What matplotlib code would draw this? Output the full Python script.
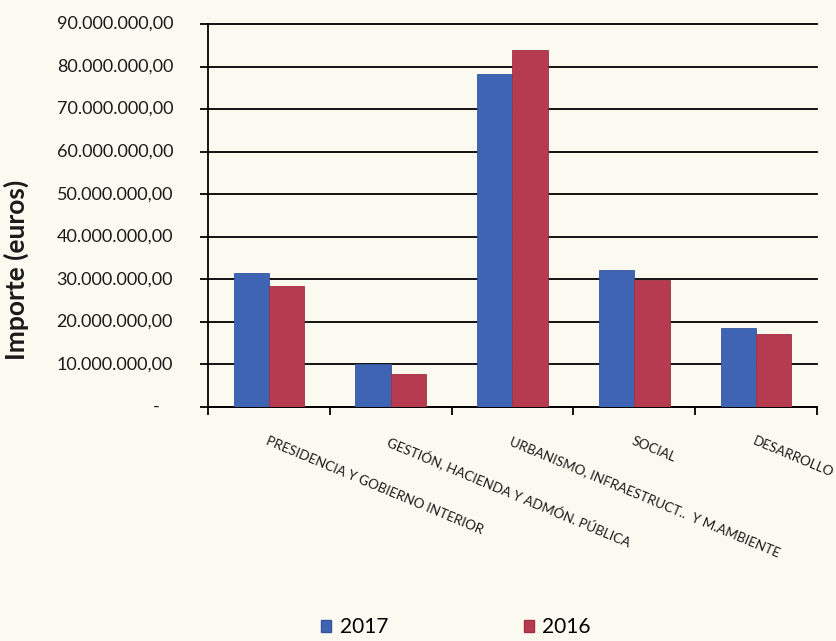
import matplotlib.pyplot as plt
from matplotlib.patches import Patch
from matplotlib.transforms import blended_transform_factory

categories = [
    "PRESIDENCIA Y GOBIERNO INTERIOR",
    "GESTIÓN, HACIENDA Y ADMÓN. PÚBLICA",
    "URBANISMO, INFRAESTRUCT..  Y M.AMBIENTE",
    "SOCIAL",
    "DESARROLLO",
]
importe_2017 = [31.6e6, 10.0e6, 78.2e6, 32.3e6, 18.6e6]
importe_2016 = [28.4e6, 7.8e6, 83.9e6, 29.8e6, 17.2e6]
yticks = [0, 10e6, 20e6, 30e6, 40e6, 50e6, 60e6, 70e6, 80e6, 90e6]

blue = "#4064b4"
red = "#b73b50"
paper = "#fbfaf1"

plt.rcParams["font.family"] = ["Lato", "DejaVu Sans"]

fig = plt.figure(figsize=(8.37, 6.41), dpi=100, facecolor=paper)
W, H = 837, 641
ax_w = 817 - 208
ax = fig.add_axes([208 / W, 1 - 407 / H, ax_w / W, (407 - 24) / H])
ax.set_facecolor(paper)

x = list(range(len(categories)))
bw = 0.29
ax.bar([i - bw / 2 for i in x], importe_2017, width=bw, color=blue,
       edgecolor="#34559e", linewidth=0.6, zorder=3)
ax.bar([i + bw / 2 for i in x], importe_2016, width=bw, color=red,
       edgecolor="#a0303f", linewidth=0.6, zorder=3)

ax.set_xlim(-0.5, len(categories) - 0.5)
ax.set_ylim(0, 90e6)

def fmt(v):
    s = f"{v:,.2f}"
    return s.replace(",", "X").replace(".", ",").replace("X", ".")

ax.set_yticks(yticks)
ax.set_yticklabels([])
ax.tick_params(axis="y", direction="out", length=6, width=1.3, color="black")
ax.yaxis.grid(True, color="black", linewidth=1.3)
for gl in ax.get_ygridlines():
    gl.set_clip_on(False)
ax.set_axisbelow(True)

# y labels drawn by hand so they sit well away from the axis
ytrans = blended_transform_factory(ax.transAxes, ax.transData)
for v in yticks:
    if v == 0:
        ax.text(-48 / ax_w, v, "-", transform=ytrans, ha="right",
                va="center", fontsize=13, color="#1a1a1a")
    else:
        ax.text(-35 / ax_w, v, fmt(v), transform=ytrans, ha="right",
                va="center", fontsize=13, color="#1a1a1a")

ax.set_xticks([i - 0.5 for i in range(len(categories) + 1)])
ax.set_xticklabels([])
ax.tick_params(axis="x", direction="out", length=6, width=1.3, color="black")

for s in ["top", "right"]:
    ax.spines[s].set_visible(False)
for s in ["left", "bottom"]:
    ax.spines[s].set_color("black")
    ax.spines[s].set_linewidth(1.3)

trans = blended_transform_factory(ax.transData, ax.transAxes)
for i, lab in enumerate(categories):
    ax.text(i, -28 / 383, lab, transform=trans, rotation=-22.7,
            rotation_mode="anchor", ha="left", va="top", fontsize=9.6,
            color="#1a1a1a")

fig.text(16 / W, 1 - 270 / H, "Importe (euros)", rotation=90, ha="center",
         va="center", fontsize=19, fontweight="bold", color="#1a1a1a")

handles = [Patch(facecolor=blue, edgecolor="#34559e", label="2017"),
           Patch(facecolor=red, edgecolor="#a0303f", label="2016")]
fig.legend(handles=handles, loc="center", bbox_to_anchor=(456 / W, 1 - 627 / H),
           ncol=2, frameon=False, fontsize=15, handlelength=0.5,
           handleheight=0.5, handletextpad=0.4, columnspacing=6.5)

fig.savefig("out.png", dpi=100, facecolor=paper)
